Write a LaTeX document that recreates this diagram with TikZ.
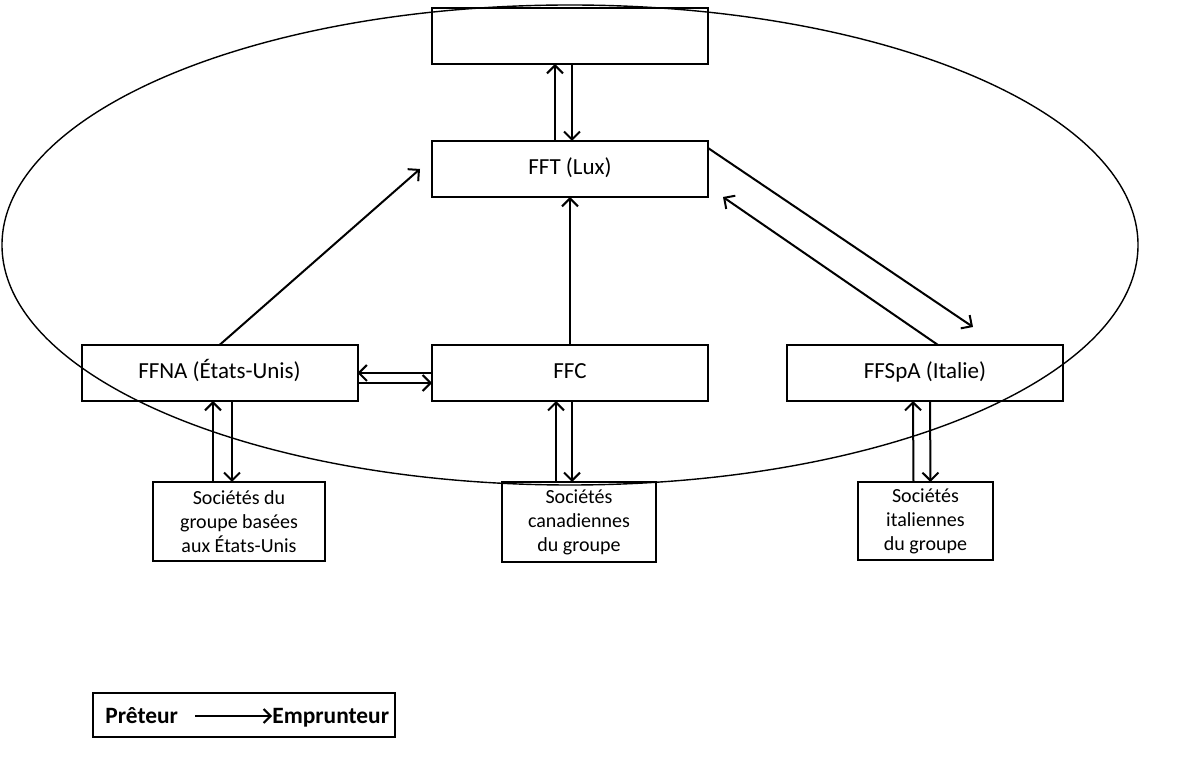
\documentclass[tikz,border=0pt]{standalone}
\usepackage{fontspec}
\setmainfont{Carlito}
\usetikzlibrary{arrows.meta}
\usetikzlibrary{positioning}

\begin{document}
\begin{tikzpicture}[x=0.5pt,y=-0.5pt,
        entity/.style={draw, line width=1pt, minimum width=138pt, minimum height=28pt,
            inner sep=0pt, outer sep=0pt, text height=8.2pt, text depth=2.6pt,
            font=\fontsize{11.5}{13}\selectfont},
        group/.style={draw, line width=1pt, inner sep=0pt, outer sep=0pt, align=center,
            font=\fontsize{10}{12}\selectfont},
        loan/.style={line width=1pt, -{Straight Barb[length=4pt,width=8pt]}}]
    \useasboundingbox (0,0) rectangle (1184,758);
    % the group circle
    \draw[line width=0.7pt] (570,245) ellipse [x radius=568, y radius=240];
    % finance entities
    \node[entity] (top)   at (570,36)    {};
    \node[entity] (fft)   at (570,169)   {FFT (Lux)};
    \node[entity] (ffna)  at (219.5,373) {FFNA (États-Unis)};
    \node[entity] (ffc)   at (570,373)   {FFC};
    \node[entity] (ffspa) at (925,373)   {FFSpA (Italie)};
    % operating companies
    \node[group, minimum width=86pt, minimum height=39.5pt] (usg) at (239,521.5)
        {Sociétés du\\groupe basées\\aux États-Unis};
    \node[group, minimum width=77pt, minimum height=40pt] (cag) at (579,522)
        {Sociétés\\canadiennes\\du groupe};
    \node[group, minimum width=67.5pt, minimum height=39pt] (itg) at (925.5,521)
        {Sociétés\\italiennes\\du groupe};
    % loans
    \draw[loan] ([xshift=-7.5pt]fft.north) -- ([xshift=-7.5pt]top.south);
    \draw[loan] ([xshift=1pt]top.south) -- ([xshift=1pt]fft.north);
    \draw[loan] (ffc.north) -- (fft.south);
    \draw[loan] (ffna.north) -- ([xshift=-6pt]fft.west);
    \draw[loan] ([yshift=-3.5pt]fft.north east) -- ([xshift=24pt,yshift=9pt]ffspa.north);
    \draw[loan] ([xshift=6.5pt]ffspa.north) -- ([xshift=7.5pt]fft.south east);
    \draw[loan] (ffc.west) -- (ffna.east);
    \draw[loan] ([yshift=-5pt]ffna.east) -- ([yshift=-5pt]ffc.west);
    \draw[loan] ([xshift=-13pt]usg.north) -- ([xshift=-3.25pt]ffna.south);
    \draw[loan] ([xshift=6.25pt]ffna.south) -- ([xshift=-3.5pt]usg.north);
    \draw[loan] ([xshift=-11.5pt]cag.north) -- ([xshift=-7pt]ffc.south);
    \draw[loan] ([xshift=1pt]ffc.south) -- ([xshift=-3.5pt]cag.north);
    \draw[loan] ([xshift=-6pt]itg.north) -- ([xshift=-6pt]ffspa.south);
    \draw[loan] ([xshift=2.5pt]ffspa.south) -- ([xshift=2.5pt]itg.north);
    % legend
    \node[draw, line width=1pt, minimum width=151pt, minimum height=22pt, inner sep=0pt] (legend) at (244,715) {};
    \node[font=\bfseries\fontsize{11.7}{13}\selectfont, anchor=base west, inner sep=0pt] (pret) at (105,724) {Prêteur};
    \node[font=\bfseries\fontsize{11.7}{13}\selectfont, anchor=base west, inner sep=0pt] (empr) at (272,724) {Emprunteur};
    \draw[line width=1pt, -{Straight Barb[length=3.5pt,width=7pt]}] ([xshift=8.5pt,yshift=4pt]pret.base east) -- ([yshift=4pt]empr.base west);
\end{tikzpicture}
\end{document}
